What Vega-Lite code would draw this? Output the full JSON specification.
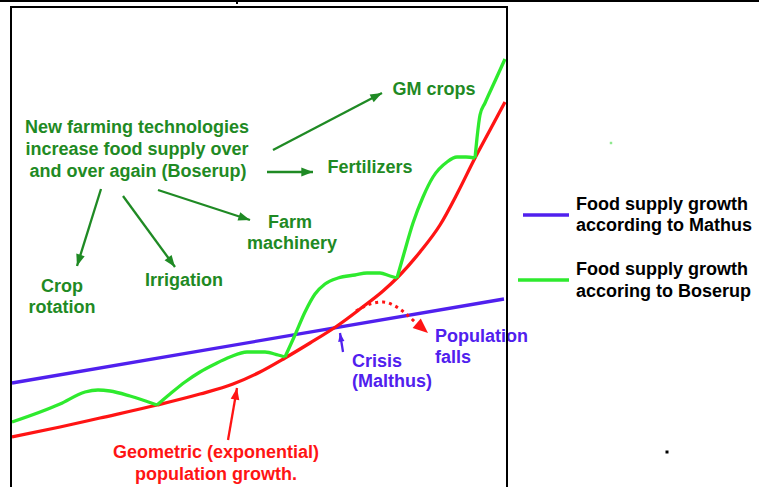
{
  "$schema": "https://vega.github.io/schema/vega-lite/v6.json",
  "width": 496,
  "height": 480,
  "autosize": {"type": "none"},
  "padding": {"left": 11, "top": 7, "right": 252, "bottom": 0},
  "background": "#ffffff",
  "config": {"view": {"stroke": null}},
  "datasets": {
    "malthus": [{"x": 1, "y": 104}, {"x": 493, "y": 188}],
    "population": [
      {"x": 1, "y": 50}, {"x": 49, "y": 60}, {"x": 89, "y": 69}, {"x": 146, "y": 82},
      {"x": 189, "y": 93}, {"x": 222, "y": 103}, {"x": 249, "y": 115}, {"x": 274, "y": 129},
      {"x": 299, "y": 144}, {"x": 326, "y": 161}, {"x": 349, "y": 178}, {"x": 372, "y": 196},
      {"x": 386, "y": 209}, {"x": 409, "y": 235}, {"x": 429, "y": 262}, {"x": 447, "y": 295},
      {"x": 464, "y": 329}, {"x": 479, "y": 357}, {"x": 494, "y": 385}
    ],
    "boserup": [
      {"seg": 1, "x": 1, "y": 65}, {"seg": 1, "x": 49, "y": 83}, {"seg": 1, "x": 74, "y": 95},
      {"seg": 1, "x": 87, "y": 97}, {"seg": 1, "x": 99, "y": 96}, {"seg": 1, "x": 119, "y": 91},
      {"seg": 1, "x": 146, "y": 82},
      {"seg": 2, "x": 146, "y": 82}, {"seg": 2, "x": 159, "y": 93}, {"seg": 2, "x": 174, "y": 105},
      {"seg": 2, "x": 189, "y": 115}, {"seg": 2, "x": 204, "y": 123}, {"seg": 2, "x": 219, "y": 130},
      {"seg": 2, "x": 236, "y": 135}, {"seg": 2, "x": 254, "y": 135}, {"seg": 2, "x": 267, "y": 132},
      {"seg": 2, "x": 274, "y": 130},
      {"seg": 3, "x": 274, "y": 130}, {"seg": 3, "x": 284, "y": 152}, {"seg": 3, "x": 294, "y": 175},
      {"seg": 3, "x": 304, "y": 193}, {"seg": 3, "x": 314, "y": 203}, {"seg": 3, "x": 327, "y": 209},
      {"seg": 3, "x": 344, "y": 212}, {"seg": 3, "x": 356, "y": 214}, {"seg": 3, "x": 369, "y": 214},
      {"seg": 3, "x": 379, "y": 211}, {"seg": 3, "x": 386, "y": 209},
      {"seg": 4, "x": 386, "y": 209}, {"seg": 4, "x": 392, "y": 230}, {"seg": 4, "x": 402, "y": 264},
      {"seg": 4, "x": 412, "y": 290}, {"seg": 4, "x": 422, "y": 310}, {"seg": 4, "x": 436, "y": 325},
      {"seg": 4, "x": 446, "y": 330}, {"seg": 4, "x": 455, "y": 330}, {"seg": 4, "x": 464, "y": 329},
      {"seg": 5, "x": 464, "y": 329}, {"seg": 5, "x": 466, "y": 349}, {"seg": 5, "x": 469, "y": 372},
      {"seg": 5, "x": 474, "y": 384}, {"seg": 5, "x": 484, "y": 406}, {"seg": 5, "x": 494, "y": 428}
    ],
    "arrows": [
      {"kind": "boserup", "x0": 262, "y0": 337, "x": 371, "y": 394},
      {"kind": "boserup", "x0": 256, "y0": 315, "x": 302, "y": 315},
      {"kind": "boserup", "x0": 147, "y0": 297, "x": 239, "y": 267},
      {"kind": "boserup", "x0": 90, "y0": 298, "x": 66, "y": 221},
      {"kind": "boserup", "x0": 112, "y0": 291, "x": 164, "y": 220},
      {"kind": "population", "x0": 217, "y0": 47, "x": 226, "y": 99},
      {"kind": "malthus", "x0": 332, "y0": 135, "x": 329, "y": 154}
    ],
    "fall": [
      {"x": 345, "y": 176}, {"x": 359, "y": 183}, {"x": 372, "y": 185},
      {"x": 384, "y": 181}, {"x": 394, "y": 174}, {"x": 404, "y": 165}
    ],
    "fallHead": [{"x0": 402, "y0": 167, "x": 417, "y": 154}],
    "labelsCentered": [
      {"x": 126, "y": 354, "text": "New farming technologies", "kind": "boserup"},
      {"x": 126, "y": 332, "text": "increase food supply over", "kind": "boserup"},
      {"x": 127, "y": 310, "text": "and over again (Boserup)", "kind": "boserup"},
      {"x": 423, "y": 392, "text": "GM crops", "kind": "boserup"},
      {"x": 359, "y": 314, "text": "Fertilizers", "kind": "boserup"},
      {"x": 279, "y": 259, "text": "Farm", "kind": "boserup"},
      {"x": 281, "y": 238, "text": "machinery", "kind": "boserup"},
      {"x": 51, "y": 195, "text": "Crop", "kind": "boserup"},
      {"x": 51, "y": 174, "text": "rotation", "kind": "boserup"},
      {"x": 173, "y": 201, "text": "Irrigation", "kind": "boserup"},
      {"x": 205, "y": 29, "text": "Geometric (exponential)", "kind": "population"},
      {"x": 205, "y": 7, "text": "population growth.", "kind": "population"}
    ],
    "labelsLeft": [
      {"x": 341, "y": 120, "text": "Crisis", "kind": "malthus"},
      {"x": 341, "y": 100, "text": "(Malthus)", "kind": "malthus"},
      {"x": 424, "y": 145, "text": "Population", "kind": "malthus"},
      {"x": 424, "y": 124, "text": "falls", "kind": "malthus"},
      {"x": 565, "y": 277, "text": "Food supply growth", "kind": "legend"},
      {"x": 565, "y": 256, "text": "according to Mathus", "kind": "legend"},
      {"x": 565, "y": 212, "text": "Food supply growth", "kind": "legend"},
      {"x": 565, "y": 190, "text": "accoring to Boserup", "kind": "legend"}
    ],
    "legendKeys": [
      {"series": "malthus", "x": 512, "xe": 558, "y": 272},
      {"series": "boserup", "x": 507, "xe": 558, "y": 207}
    ],
    "frame": [
      {"x": 0, "y": -10, "xe": 0, "ye": 481},
      {"x": -1, "y": 480, "xe": 497, "ye": 480},
      {"x": 496, "y": -10, "xe": 496, "ye": 481},
      {"x": -11, "y": 486, "xe": 748, "ye": 486},
      {"x": 226, "y": 487, "xe": 226, "ye": 483}
    ],
    "specks": [
      {"x": 656, "y": 35, "kind": "black"},
      {"x": 600, "y": 344, "kind": "green"}
    ]
  },
  "encoding": {
    "x": {"field": "x", "type": "quantitative", "scale": {"domain": [0, 496], "nice": false, "zero": false}, "axis": null},
    "y": {"field": "y", "type": "quantitative", "scale": {"domain": [0, 480], "nice": false, "zero": false}, "axis": null}
  },
  "layer": [
    {
      "data": {"name": "malthus"},
      "mark": {"type": "line", "color": "#5020ee", "strokeWidth": 3.3}
    },
    {
      "data": {"name": "population"},
      "mark": {"type": "line", "color": "#ff1414", "strokeWidth": 3.3, "interpolate": "monotone"}
    },
    {
      "data": {"name": "boserup"},
      "mark": {"type": "line", "color": "#2eea2e", "strokeWidth": 3.3, "interpolate": "monotone", "strokeJoin": "round"},
      "encoding": {"detail": {"field": "seg", "type": "nominal"}}
    },
    {
      "data": {"name": "arrows"},
      "mark": {"type": "rule", "strokeWidth": 2.3},
      "encoding": {
        "x2": {"field": "x0"},
        "y2": {"field": "y0"},
        "color": {"field": "kind", "type": "nominal", "legend": null,
          "scale": {"domain": ["boserup", "population", "malthus", "legend"], "range": ["#1f8a24", "#ff1414", "#5020ee", "#000000"]}}
      }
    },
    {
      "data": {"name": "arrows"},
      "transform": [{"calculate": "atan2(datum.x - datum.x0, datum.y - datum.y0) * 180 / PI", "as": "angle"}],
      "mark": {"type": "point", "shape": "M0,0L-0.45,1.2L0.45,1.2Z", "filled": true, "opacity": 1},
      "encoding": {
        "angle": {"field": "angle", "type": "quantitative", "scale": null},
        "size": {"condition": {"test": "datum.kind === 'malthus'", "value": 200}, "value": 380},
        "color": {"field": "kind", "type": "nominal", "legend": null,
          "scale": {"domain": ["boserup", "population", "malthus", "legend"], "range": ["#1f8a24", "#ff1414", "#5020ee", "#000000"]}}
      }
    },
    {
      "data": {"name": "fall"},
      "mark": {"type": "line", "color": "#ff1414", "strokeWidth": 3, "strokeDash": [3, 4], "interpolate": "monotone"}
    },
    {
      "data": {"name": "fallHead"},
      "transform": [{"calculate": "atan2(datum.x - datum.x0, datum.y - datum.y0) * 180 / PI", "as": "angle"}],
      "mark": {"type": "point", "shape": "M0,0L-0.5,1.2L0.5,1.2Z", "filled": true, "opacity": 1, "color": "#ff1414", "size": 620},
      "encoding": {"angle": {"field": "angle", "type": "quantitative", "scale": null}}
    },
    {
      "data": {"name": "labelsCentered"},
      "mark": {"type": "text", "font": "Liberation Sans", "fontWeight": "bold", "fontSize": 18, "align": "center", "baseline": "alphabetic"},
      "encoding": {
        "text": {"field": "text"},
        "color": {"field": "kind", "type": "nominal", "legend": null,
          "scale": {"domain": ["boserup", "population", "malthus", "legend"], "range": ["#1f8a24", "#ff1414", "#5020ee", "#000000"]}}
      }
    },
    {
      "data": {"name": "labelsLeft"},
      "mark": {"type": "text", "font": "Liberation Sans", "fontWeight": "bold", "fontSize": 18, "align": "left", "baseline": "alphabetic"},
      "encoding": {
        "text": {"field": "text"},
        "color": {"field": "kind", "type": "nominal", "legend": null,
          "scale": {"domain": ["boserup", "population", "malthus", "legend"], "range": ["#1f8a24", "#ff1414", "#5020ee", "#000000"]}}
      }
    },
    {
      "data": {"name": "legendKeys"},
      "transform": [{"filter": "datum.series === 'malthus'"}],
      "mark": {"type": "rule", "color": "#5020ee", "strokeWidth": 3.5},
      "encoding": {"x2": {"field": "xe"}}
    },
    {
      "data": {"name": "legendKeys"},
      "transform": [{"filter": "datum.series === 'boserup'"}],
      "mark": {"type": "rule", "color": "#2eea2e", "strokeWidth": 3.5},
      "encoding": {"x2": {"field": "xe"}}
    },
    {
      "data": {"name": "specks"},
      "transform": [{"filter": "datum.kind === 'black'"}],
      "mark": {"type": "square", "color": "#000000", "size": 9, "opacity": 1}
    },
    {
      "data": {"name": "specks"},
      "transform": [{"filter": "datum.kind === 'green'"}],
      "mark": {"type": "square", "color": "#8ee88e", "size": 6, "opacity": 1}
    },
    {
      "data": {"name": "frame"},
      "mark": {"type": "rule", "color": "#000000", "strokeWidth": 2},
      "encoding": {"x2": {"field": "xe"}, "y2": {"field": "ye"}}
    }
  ]
}
